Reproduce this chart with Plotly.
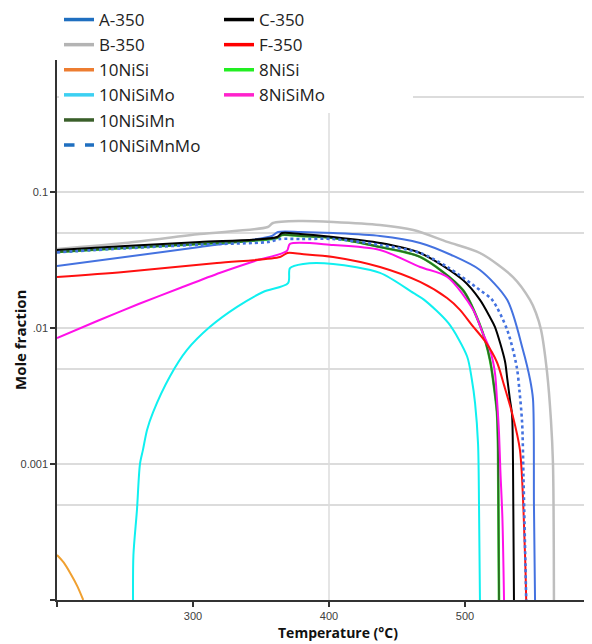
import plotly.graph_objects as go

# ---------------- data (Temperature °C, mole fraction) ----------------
T_B350 = [200, 250, 305, 355, 358.8, 379, 403, 437.5, 462, 487, 511, 535.3, 547.8, 552.2, 555.9, 560.3, 563.2, 564.7, 565.4]
V_B350 = [0.0381, 0.0422, 0.0491, 0.0553, 0.0592, 0.0612, 0.0602, 0.0572, 0.0525, 0.043, 0.0356, 0.0237, 0.0161, 0.0129, 0.0097, 0.00475, 0.0021, 0.001, 0.0001]

T_A350 = [200, 250, 305, 358, 362.5, 379, 403, 437.5, 467, 490, 511, 531, 542.6, 547.8, 550, 550.7, 551.5]
V_A350 = [0.0286, 0.0333, 0.0394, 0.0475, 0.0508, 0.0508, 0.0499, 0.0475, 0.0422, 0.0344, 0.0267, 0.0161, 0.0069, 0.0042, 0.003, 0.0005, 0.0001]

T_C350 = [200, 250, 305, 361.8, 365.4, 379, 403, 437.5, 467, 498.5, 511, 518.4, 522, 529.4, 531, 533, 534.6, 535.3, 536]
V_C350 = [0.0375, 0.0401, 0.0429, 0.0467, 0.0499, 0.0491, 0.0467, 0.0422, 0.0356, 0.0225, 0.0161, 0.012, 0.0102, 0.0057, 0.0043, 0.003, 0.0023, 0.001, 0.0001]

T_10NiSiMn = [200, 250, 305, 361.8, 365.4, 379, 403, 437.5, 467, 498.5, 511, 515, 518.4, 520.6, 523.5, 524.3, 525]
V_10NiSiMn = [0.0362, 0.0388, 0.0415, 0.0459, 0.0483, 0.0475, 0.0459, 0.0394, 0.0333, 0.019, 0.0105, 0.008, 0.0058, 0.0042, 0.0024, 0.0013, 0.0001]

T_8NiSi = [200, 250, 305, 361.8, 365.4, 379, 403, 437.5, 467, 498.5, 511, 515, 518.4, 520.6, 523.5, 524.3, 525]
V_8NiSi = [0.0362, 0.0388, 0.0415, 0.0459, 0.0483, 0.0475, 0.0459, 0.0394, 0.0333, 0.019, 0.0105, 0.008, 0.0058, 0.0042, 0.0024, 0.0013, 0.0001]

T_10NiSiMnMo = [200, 250, 305, 355, 364, 379, 403, 437.5, 467, 487, 511, 520, 531, 538, 540, 542, 543, 545]
V_10NiSiMnMo = [0.036, 0.0385, 0.041, 0.0429, 0.0451, 0.0451, 0.0451, 0.0408, 0.0356, 0.0281, 0.019, 0.0161, 0.0097, 0.0052, 0.0035, 0.002, 0.0008, 0.0001]

T_8NiSiMo = [200, 230, 260, 290, 320, 345, 369, 371.3, 403, 437.5, 467, 487, 506, 513, 518.4, 522, 523.5, 525, 526, 527.5, 528.7]
V_8NiSiMo = [0.00844, 0.0113, 0.015, 0.0196, 0.0255, 0.031, 0.0368, 0.0415, 0.0408, 0.0375, 0.0281, 0.0237, 0.0136, 0.0092, 0.0069, 0.0047, 0.003, 0.0017, 0.0009, 0.0004, 0.0001]

T_F350 = [200, 249, 317.6, 364, 369.5, 380, 403, 437.5, 467, 486.8, 496.3, 505.1, 514.7, 523.5, 528.7, 534.6, 540.4, 544.1, 545]
V_F350 = [0.0237, 0.0258, 0.0301, 0.0333, 0.0356, 0.035, 0.0333, 0.0281, 0.0218, 0.0166, 0.0136, 0.0105, 0.008, 0.0056, 0.0038, 0.00237, 0.00127, 0.00022, 0.0001]

T_10NiSiMo = [255.9, 256.2, 258.8, 261, 263.2, 266.2, 270.6, 283, 295.6, 312.5, 332.4, 351.5, 369.9, 371.3, 381, 403, 437.5, 462, 470, 488, 501.5, 505, 507.4, 509.6, 510.3, 511]
V_10NiSiMo = [0.0001, 0.000214, 0.00046, 0.001, 0.00127, 0.00178, 0.0024, 0.0044, 0.0069, 0.0102, 0.0143, 0.0184, 0.0214, 0.0276, 0.0296, 0.0296, 0.0254, 0.0181, 0.0161, 0.0108, 0.0062, 0.0042, 0.0028, 0.0014, 0.0005, 0.0001]

T_10NiSi = [200, 205, 210, 215, 219.3]
V_10NiSi = [0.000214, 0.000188, 0.000156, 0.000126, 0.0001]

# legend entries
LEGEND_LEFT = ["A-350", "B-350", "10NiSi", "10NiSiMo", "10NiSiMn", "10NiSiMnMo"]
LEGEND_LEFT_COLORS = ["#1F6FC0", "#B4B4B4", "#ED7D31", "#3CD0F2", "#3A5F2A", "#1F6FC0"]
LEGEND_LEFT_DASH = ["solid", "solid", "solid", "solid", "solid", "dash"]
LEGEND_RIGHT = ["C-350", "F-350", "8NiSi", "8NiSiMo"]
LEGEND_RIGHT_COLORS = ["#000000", "#FF0000", "#22EE22", "#FF22CC"]

X_TICKS = [200, 300, 400, 500]
X_TICKTEXT = ["", "300", "400", "500"]
Y_TICKS = [0.0001, 0.001, 0.01, 0.1]
Y_TICKTEXT = ["", "0.001", ".01", "0.1"]
Y_MINOR = [0.0005, 0.005, 0.05, 0.5]

fig = go.Figure()

def add(T, V, color, width=2.0, dash="solid"):
    fig.add_trace(go.Scatter(x=T, y=V, mode="lines", showlegend=False,
                             line=dict(color=color, width=width, dash=dash,
                                       shape="spline", smoothing=0.8),
                             hoverinfo="skip"))

add(T_B350, V_B350, "#BEBEBE", 2.5)
add(T_A350, V_A350, "#4472E0", 2.0)
add(T_10NiSiMo, V_10NiSiMo, "#10F0F0", 2.0)
add(T_8NiSi, V_8NiSi, "#33DD33", 2.6)
add(T_10NiSiMn, V_10NiSiMn, "#2C6A22", 1.8)
add(T_8NiSiMo, V_8NiSiMo, "#FF10E8", 2.0)
add(T_C350, V_C350, "#000000", 2.0)
add(T_F350, V_F350, "#FF1010", 2.0)
add(T_10NiSiMnMo, V_10NiSiMnMo, "#4472E0", 2.6, "dot")
add(T_10NiSi, V_10NiSi, "#F0A030", 2.0)

for name, col, dsh in zip(LEGEND_LEFT, LEGEND_LEFT_COLORS, LEGEND_LEFT_DASH):
    fig.add_trace(go.Scatter(x=[None], y=[None], mode="lines", name=name,
                             line=dict(color=col, width=3.5, dash=dsh), legend="legend"))
for name, col in zip(LEGEND_RIGHT, LEGEND_RIGHT_COLORS):
    fig.add_trace(go.Scatter(x=[None], y=[None], mode="lines", name=name,
                             line=dict(color=col, width=3.5), legend="legend2"))

# page has an 8px body margin: figure is 584x636 placed at (8, 8)
OFF = 8
W, H = 592 - OFF, 644 - OFF
L, R, TOP, B = 57 - OFF, 0, 60 - OFF, 44
pw, ph = W - L - R, H - TOP - B
# page pixel -> paper fraction
px = lambda p: (p - 57) / pw
py = lambda p: (600 - p) / ph

legend_font = dict(family="Open Sans", size=17, color="#222222")
fig.update_layout(
    width=W, height=H,
    margin=dict(l=L, r=R, t=TOP, b=B, pad=0, autoexpand=False),
    paper_bgcolor="white", plot_bgcolor="white",
    legend=dict(x=px(59), y=py(2), xanchor="left", yanchor="top", bgcolor="white", borderwidth=0,
                font=legend_font, traceorder="normal"),
    legend2=dict(x=px(219), y=py(2), xanchor="left", yanchor="top",
                 bgcolor="rgba(255,255,255,0)", borderwidth=0,
                 font=legend_font, traceorder="normal"),
    xaxis=dict(range=[200, 200 + pw / 1.36], tickmode="array", tickvals=X_TICKS, ticktext=X_TICKTEXT,
               ticks="outside", ticklen=5, tickwidth=1.5, tickcolor="#333333", automargin=False,
               showgrid=False, zeroline=False, showline=True, linecolor="#333333", linewidth=1.5,
               tickfont=dict(family="Liberation Sans", size=11, color="#404040")),
    yaxis=dict(type="log", range=[-4, -0.0294], tickmode="array", tickvals=Y_TICKS, ticktext=Y_TICKTEXT,
               ticks="outside", ticklen=5, tickwidth=1.5, tickcolor="#333333", automargin=False,
               showgrid=True, gridcolor="#DCDCDC", gridwidth=1.5,
               minor=dict(tickmode="array", tickvals=Y_MINOR, showgrid=True, gridcolor="#DCDCDC",
                          gridwidth=1.5, ticks=""),
               zeroline=False, showline=True, linecolor="#333333", linewidth=1.5,
               tickfont=dict(family="Liberation Sans", size=11, color="#404040")),
    shapes=[
        dict(type="line", xref="x", yref="paper", x0=400, x1=400, y0=0, y1=1,
             line=dict(color="#DCDCDC", width=1.5), layer="below"),
        dict(type="rect", xref="paper", yref="paper", x0=px(67), x1=px(413),
             y0=py(113), y1=1.0, fillcolor="white", line=dict(width=0), layer="above"),
    ],
    annotations=[
        dict(text="Mole fraction", xref="paper", yref="paper", x=px(20), y=py(340),
             textangle=-90, showarrow=False, xanchor="center", yanchor="middle",
             font=dict(family="Open Sans", size=15, color="#111111", weight="bold")),
        dict(text="Temperature (°C)", xref="paper", yref="paper", x=px(338), y=py(632),
             showarrow=False, xanchor="center", yanchor="middle",
             font=dict(family="Open Sans", size=14, color="#111111", weight="bold")),
    ],
)

fig.write_html("out.html")
